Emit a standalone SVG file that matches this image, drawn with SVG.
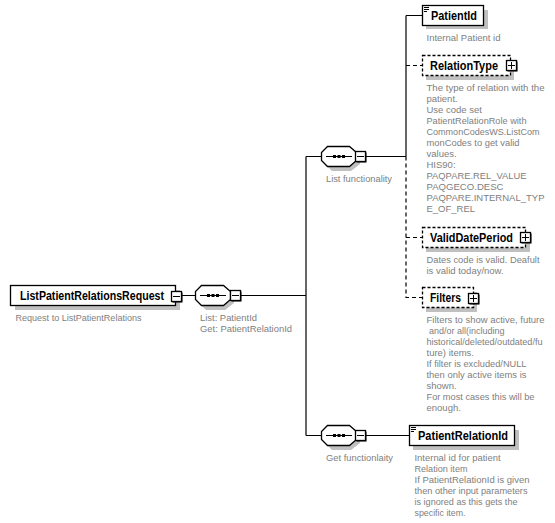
<svg xmlns="http://www.w3.org/2000/svg" width="555" height="523" viewBox="0 0 555 523">
<style>
.bg{fill:#fff}
.shadow{fill:#c0c0c0;stroke:none}
.box{fill:#fff;stroke:#000;stroke-width:1.3}
.dash{stroke-dasharray:3 2}
.name{font:bold 12.500px "Liberation Sans",Arial,sans-serif;fill:#000}
.desc{font:9.500px "Liberation Sans",Arial,sans-serif;fill:#808080;white-space:pre}
.conn{fill:none;stroke:#000;stroke-width:1.2}
.conn.d{stroke-dasharray:4 3}
.tog{fill:#fff;stroke:#000;stroke-width:1.3}
.togs{fill:#000;stroke:none}
.sign{stroke:#000;stroke-width:1;fill:none}
.dot{fill:#000}
</style>
<defs>
<g id="minus"><rect class="togs" x="1.5" y="1.5" width="10" height="10"/><rect class="tog" x="0.5" y="0.5" width="10" height="10"/><path class="sign" d="M2 5.5H9"/></g>
<g id="plus"><rect class="togs" x="1.5" y="1.5" width="10" height="10"/><rect class="tog" x="0.5" y="0.5" width="10" height="10"/><path class="sign" d="M2 5.5H9M5.5 2V9"/></g>
<g id="seq"><path class="shadow" d="M11 4H30L39 11V18L30 25H11L4 18V11Z"/><path class="box" d="M6.5 0.5H28.5L35.5 6.5V14.5L28.5 20.5H6.5L0.5 14.5V6.5Z"/><path class="sign" d="M5 10.5H31"/><rect class="dot" x="12" y="9" width="3" height="3"/><rect class="dot" x="16.500" y="9" width="3" height="3"/><rect class="dot" x="21" y="9" width="3" height="3"/></g>
<path id="lines" class="sign" d="M0 0H5M0 2H5M0 4H3"/>
</defs>
<rect class="bg" width="555" height="523"/>
<g id="connectors">
<path class="conn" d="M181 295.500H195M240 295.500H306M306 156.500V435.500M306 156.500H321M306 435.500H321M366 156.500H406M406 15.500V156.500M406 15.500H422M366 435.500H409"/>
<path class="conn d" d="M406 156.500V297.500H422M406 65.500H422M406 237.500H422"/>
</g>
<g id="ListPatientRelationsRequest">
<rect class="shadow" x="15" y="290" width="165" height="20"/>
<rect class="box" x="10.500" y="285.500" width="165" height="20"/>
<text class="name" x="20" y="300" textLength="144" lengthAdjust="spacingAndGlyphs">ListPatientRelationsRequest</text>
<use href="#minus" x="171" y="291"/>
<text class="desc" x="15.500" y="321" textLength="126" lengthAdjust="spacingAndGlyphs">Request to ListPatientRelations</text>
</g>
<g id="seq-root">
<use href="#seq" x="195" y="285"/>
<use href="#minus" x="230" y="290"/>
<text class="desc" x="200" y="321" textLength="57" lengthAdjust="spacingAndGlyphs">List: PatientId</text>
<text class="desc" x="200" y="332" textLength="92" lengthAdjust="spacingAndGlyphs">Get: PatientRelationId</text>
</g>
<g id="seq-list">
<use href="#seq" x="321" y="146"/>
<use href="#minus" x="355" y="151"/>
<text class="desc" x="326" y="182" textLength="66" lengthAdjust="spacingAndGlyphs">List functionality</text>
</g>
<g id="seq-get">
<use href="#seq" x="321" y="425"/>
<use href="#minus" x="355" y="430"/>
<text class="desc" x="326" y="461" textLength="67" lengthAdjust="spacingAndGlyphs">Get functionlaity</text>
</g>
<g id="PatientId">
<rect class="shadow" x="426" y="10" width="62" height="19"/>
<rect class="box" x="422.500" y="5.500" width="61" height="20"/>
<use href="#lines" x="424" y="7.500"/>
<text class="name" x="431" y="20" textLength="46" lengthAdjust="spacingAndGlyphs">PatientId</text>
<text class="desc" x="426.500" y="41" textLength="74" lengthAdjust="spacingAndGlyphs">Internal Patient id</text>
</g>
<g id="RelationType">
<rect class="shadow" x="426" y="60" width="88" height="20"/>
<rect class="box dash" x="422.500" y="55.500" width="88" height="20"/>
<text class="name" x="430" y="70" textLength="68" lengthAdjust="spacingAndGlyphs">RelationType</text>
<use href="#plus" x="506" y="60"/>
<text class="desc" x="426.500" y="91" textLength="118" lengthAdjust="spacingAndGlyphs">The type of relation with the</text>
<text class="desc" x="426.500" y="102">patient.</text>
<text class="desc" x="426.500" y="113">Use code set</text>
<text class="desc" x="426.500" y="124" textLength="100" lengthAdjust="spacingAndGlyphs">PatientRelationRole with</text>
<text class="desc" x="426.500" y="135" textLength="113" lengthAdjust="spacingAndGlyphs">CommonCodesWS.ListCom</text>
<text class="desc" x="426.500" y="146" textLength="93" lengthAdjust="spacingAndGlyphs">monCodes to get valid</text>
<text class="desc" x="426.500" y="157">values.</text>
<text class="desc" x="426.500" y="168">HIS90:</text>
<text class="desc" x="426.500" y="179" textLength="100" lengthAdjust="spacingAndGlyphs">PAQPARE.REL_VALUE</text>
<text class="desc" x="426.500" y="190" textLength="77" lengthAdjust="spacingAndGlyphs">PAQGECO.DESC</text>
<text class="desc" x="426.500" y="201" textLength="118" lengthAdjust="spacingAndGlyphs">PAQPARE.INTERNAL_TYP</text>
<text class="desc" x="426.500" y="212">E_OF_REL</text>
</g>
<g id="ValidDatePeriod">
<rect class="shadow" x="426" y="232" width="104" height="20"/>
<rect class="box dash" x="422.500" y="227.500" width="103" height="20"/>
<text class="name" x="430" y="242" textLength="83" lengthAdjust="spacingAndGlyphs">ValidDatePeriod</text>
<use href="#plus" x="520" y="232"/>
<text class="desc" x="426.500" y="263" textLength="113" lengthAdjust="spacingAndGlyphs">Dates code is valid. Deafult</text>
<text class="desc" x="426.500" y="274">is valid today/now.</text>
</g>
<g id="Filters">
<rect class="shadow" x="426" y="292" width="51" height="20"/>
<rect class="box dash" x="422.500" y="287.500" width="51" height="20"/>
<text class="name" x="430" y="302" textLength="31" lengthAdjust="spacingAndGlyphs">Filters</text>
<use href="#plus" x="468" y="293"/>
<text class="desc" x="426.500" y="323" textLength="118" lengthAdjust="spacingAndGlyphs">Filters to show active, future</text>
<text class="desc" x="426.500" y="334" textLength="78" lengthAdjust="spacingAndGlyphs"> and/or all(including</text>
<text class="desc" x="426.500" y="345" textLength="116" lengthAdjust="spacingAndGlyphs">historical/deleted/outdated/fu</text>
<text class="desc" x="426.500" y="356">ture) items.</text>
<text class="desc" x="426.500" y="367" textLength="100" lengthAdjust="spacingAndGlyphs">If filter is excluded/NULL</text>
<text class="desc" x="426.500" y="378" textLength="100" lengthAdjust="spacingAndGlyphs">then only active items is</text>
<text class="desc" x="426.500" y="389">shown.</text>
<text class="desc" x="426.500" y="400" textLength="108" lengthAdjust="spacingAndGlyphs">For most cases this will be</text>
<text class="desc" x="426.500" y="411">enough.</text>
</g>
<g id="PatientRelationId">
<rect class="shadow" x="413" y="430" width="106" height="20"/>
<rect class="box" x="409.500" y="425.500" width="105" height="20"/>
<use href="#lines" x="411" y="427.500"/>
<text class="name" x="418" y="440" textLength="90" lengthAdjust="spacingAndGlyphs">PatientRelationId</text>
<text class="desc" x="414.500" y="461" textLength="86" lengthAdjust="spacingAndGlyphs">Internal id for patient</text>
<text class="desc" x="414.500" y="472" textLength="53" lengthAdjust="spacingAndGlyphs">Relation item</text>
<text class="desc" x="414.500" y="483" textLength="115" lengthAdjust="spacingAndGlyphs">If PatientRelationId is given</text>
<text class="desc" x="414.500" y="494" textLength="113" lengthAdjust="spacingAndGlyphs">then other input parameters</text>
<text class="desc" x="414.500" y="505" textLength="103" lengthAdjust="spacingAndGlyphs">is ignored as this gets the</text>
<text class="desc" x="414.500" y="516" textLength="51" lengthAdjust="spacingAndGlyphs">specific item.</text>
</g>
</svg>
